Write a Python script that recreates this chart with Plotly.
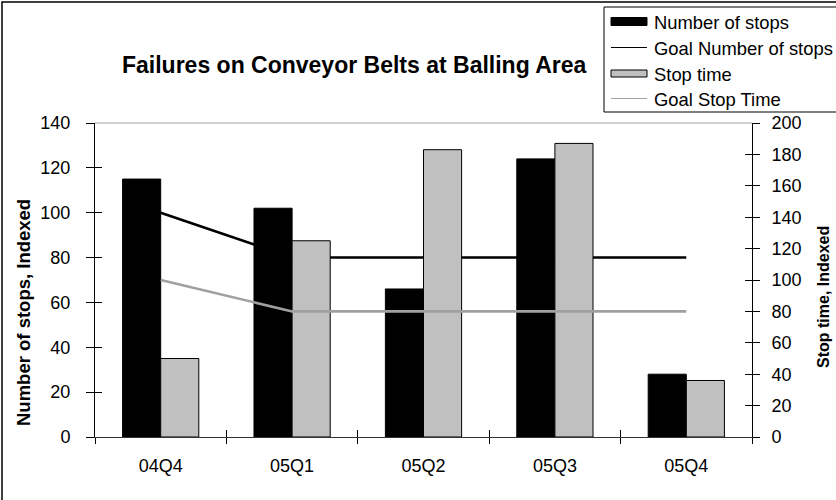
import plotly.graph_objects as go

# ---- data ----
quarters = ["04Q4", "05Q1", "05Q2", "05Q3", "05Q4"]
stops = [115, 102, 66, 124, 28]            # left axis
goal_stops = [100, 80, 80, 80, 80]          # left axis
stop_time = [50, 125, 183, 187, 36]         # right axis
goal_stop_time = [100, 80, 80, 80, 80]      # right axis

legend_labels = ["Number of stops", "Goal Number of stops", "Stop time", "Goal Stop Time"]
left_title = "Number of stops, Indexed"
right_title = "Stop time, Indexed"
chart_title = "Failures on Conveyor Belts at Balling Area"

FONT = "Liberation Sans, Arial, sans-serif"
W, H = 836, 500
ML, MR, MT, MB = 95, 84, 123, 63
PW, PH = W - ML - MR, H - MT - MB


def px_x(px):
    return (px - ML) / PW


def px_y(py):
    return (H - MB - py) / PH


BAR_W = 0.29

fig = go.Figure()
fig.add_trace(go.Bar(
    x=quarters, y=stops, name=legend_labels[0], yaxis="y",
    width=BAR_W, offset=-BAR_W, marker=dict(color="#000000", line=dict(color="#000000", width=1)),
    showlegend=False,
))
fig.add_trace(go.Bar(
    x=quarters, y=stop_time, name=legend_labels[2], yaxis="y2",
    width=BAR_W, offset=0, marker=dict(color="#C0C0C0", line=dict(color="#000000", width=1)),
    showlegend=False,
))
fig.add_trace(go.Scatter(
    x=quarters, y=goal_stops, name=legend_labels[1], yaxis="y", mode="lines",
    line=dict(color="#000000", width=2.6), showlegend=False,
))
fig.add_trace(go.Scatter(
    x=quarters, y=goal_stop_time, name=legend_labels[3], yaxis="y2", mode="lines",
    line=dict(color="#A0A0A0", width=2.6), showlegend=False,
))

# empty helper traces so the overlay tick axes get drawn
fig.add_trace(go.Scatter(x=[None], y=[None], xaxis="x2", yaxis="y3", mode="markers",
                         showlegend=False, hoverinfo="skip"))
fig.add_trace(go.Scatter(x=[None], y=[None], xaxis="x2", yaxis="y4", mode="markers",
                         showlegend=False, hoverinfo="skip"))

tick_font = dict(family=FONT, size=18, color="#000000")

fig.update_layout(
    width=W, height=H,
    margin=dict(l=ML, r=MR, t=MT, b=MB, pad=0),
    paper_bgcolor="#FFFFFF", plot_bgcolor="#FFFFFF",
    barmode="overlay",
    showlegend=False,
    xaxis=dict(
        type="category", categoryarray=quarters, range=[-0.5, 4.5],
        showline=True, linecolor="#333333", linewidth=1,
        ticks="outside", tickson="boundaries", ticklen=6, tickcolor="#000000",
        tickfont=tick_font, ticklabelstandoff=12,
        showgrid=False, zeroline=False,
    ),
    # inner half of the crossing category ticks
    xaxis2=dict(
        overlaying="x", anchor="y3", side="bottom", type="linear", range=[-0.5, 4.5],
        tickmode="array", tickvals=[-0.5, 0.5, 1.5, 2.5, 3.5, 4.5], ticks="inside", ticklen=7,
        tickcolor="#000000", showticklabels=False, showgrid=False, zeroline=False, showline=False,
    ),
    yaxis=dict(
        range=[0, 140], dtick=20, tick0=0,
        showline=True, linecolor="#000000", linewidth=1,
        ticks="outside", ticklen=8, tickcolor="#000000",
        tickfont=tick_font, ticklabelstandoff=12,
        showgrid=False, zeroline=False,
    ),
    yaxis2=dict(
        range=[0, 200], dtick=20, tick0=0, overlaying="y", side="right", anchor="x",
        showline=True, linecolor="#000000", linewidth=1,
        ticks="outside", ticklen=7, tickcolor="#000000",
        tickfont=tick_font, ticklabelstandoff=8,
        showgrid=False, zeroline=False,
    ),
    # inner halves of the crossing value ticks
    yaxis3=dict(
        range=[0, 140], dtick=20, tick0=0, overlaying="y", side="left", anchor="x2",
        ticks="inside", ticklen=7, tickcolor="#000000", showticklabels=False,
        showgrid=False, zeroline=False, showline=False,
    ),
    yaxis4=dict(
        range=[0, 200], dtick=20, tick0=0, overlaying="y", side="right", anchor="x2",
        ticks="inside", ticklen=7, tickcolor="#000000", showticklabels=False,
        showgrid=False, zeroline=False, showline=False,
    ),
)

shapes = []
annotations = []

# outer chart frame
shapes.append(dict(type="rect", xref="paper", yref="paper",
                   x0=px_x(2), x1=px_x(860), y0=px_y(520), y1=px_y(2),
                   line=dict(color="#000000", width=1.5), fillcolor="rgba(0,0,0,0)", layer="above"))
# plot area top border
shapes.append(dict(type="line", xref="x domain", yref="y domain",
                   x0=0, x1=1, y0=1, y1=1, line=dict(color="#A0A0A0", width=1.2), layer="below"))

# legend box
shapes.append(dict(type="rect", xref="paper", yref="paper",
                   x0=px_x(604), x1=px_x(860), y0=px_y(112), y1=px_y(7),
                   line=dict(color="#000000", width=1), fillcolor="#FFFFFF", layer="above"))

rows = [21.5, 47.5, 73.5, 98.5]
sx0, sx1 = 611, 647
# swatches
shapes.append(dict(type="rect", xref="paper", yref="paper",
                   x0=px_x(sx0), x1=px_x(sx1), y0=px_y(rows[0] + 4), y1=px_y(rows[0] - 4),
                   line=dict(color="#000000", width=1), fillcolor="#000000", layer="above"))
shapes.append(dict(type="line", xref="paper", yref="paper",
                   x0=px_x(sx0), x1=px_x(sx1), y0=px_y(rows[1]), y1=px_y(rows[1]),
                   line=dict(color="#000000", width=1.2), layer="above"))
shapes.append(dict(type="rect", xref="paper", yref="paper",
                   x0=px_x(sx0), x1=px_x(sx1), y0=px_y(rows[2] + 3.5), y1=px_y(rows[2] - 3.5),
                   line=dict(color="#000000", width=1), fillcolor="#C0C0C0", layer="above"))
shapes.append(dict(type="line", xref="paper", yref="paper",
                   x0=px_x(sx0), x1=px_x(sx1), y0=px_y(rows[3]), y1=px_y(rows[3]),
                   line=dict(color="#A0A0A0", width=1.2), layer="above"))

for label, ry in zip(legend_labels, rows):
    annotations.append(dict(text=label, xref="paper", yref="paper",
                            x=px_x(652), y=px_y(ry + 1), xanchor="left", yanchor="middle",
                            showarrow=False, font=dict(family=FONT, size=18.4, color="#000000")))

# chart title
annotations.append(dict(text="<b>%s</b>" % chart_title, xref="paper", yref="paper",
                        x=px_x(354), y=px_y(65), xanchor="center", yanchor="middle",
                        showarrow=False, font=dict(family=FONT, size=23, color="#000000")))
# axis titles
annotations.append(dict(text="<b>%s</b>" % left_title, xref="paper", yref="paper",
                        x=px_x(23), y=px_y(313), xanchor="center", yanchor="middle", textangle=-90,
                        showarrow=False, font=dict(family=FONT, size=18.5, color="#000000")))
annotations.append(dict(text="<b>%s</b>" % right_title, xref="paper", yref="paper",
                        x=px_x(823), y=px_y(297), xanchor="center", yanchor="middle", textangle=-90,
                        showarrow=False, font=dict(family=FONT, size=16, color="#000000")))

fig.update_layout(shapes=shapes, annotations=annotations)

fig.write_html("out.html")
